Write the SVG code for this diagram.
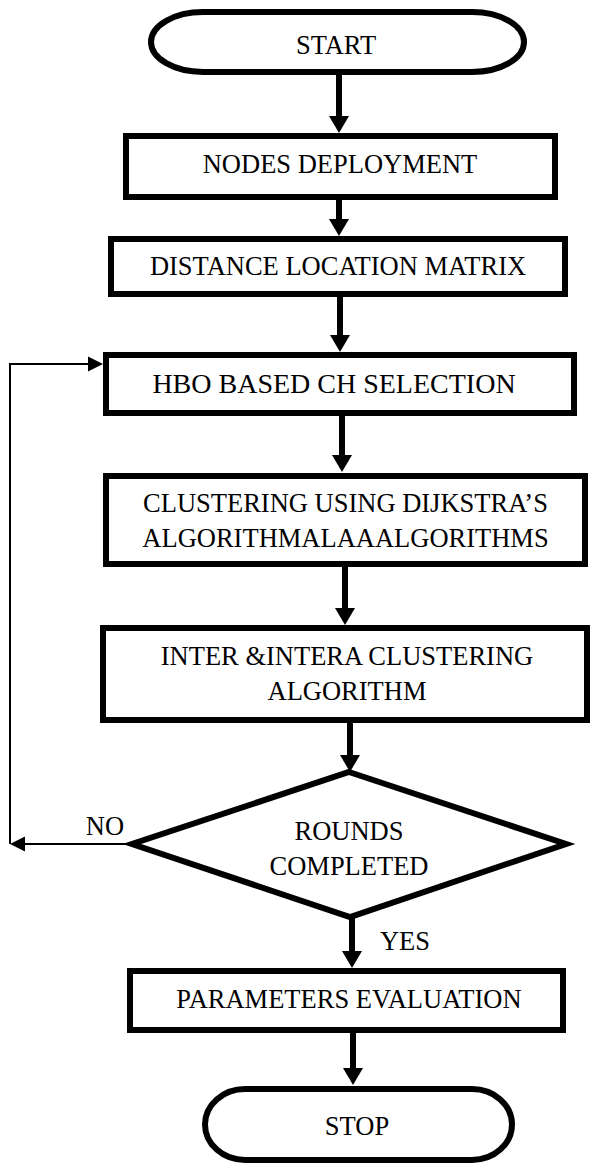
<svg xmlns="http://www.w3.org/2000/svg" width="592" height="1168" viewBox="0 0 592 1168">
  <style>
    .shape { fill: #ffffff; stroke: #000000; stroke-width: 6; }
    .lbl { font-family: "Liberation Serif", "Times New Roman", serif; font-size: 26.5px; fill: #000000; text-anchor: middle; }
    .thick { fill: none; stroke: #000000; stroke-width: 6; }
    .thin { fill: none; stroke: #000000; stroke-width: 2; }
  </style>
  <defs>
    <marker id="headThick" markerUnits="userSpaceOnUse" markerWidth="20" markerHeight="22" viewBox="0 -11 18 22" refX="0" refY="0" orient="auto">
      <path d="M0,-10 L17,0 L0,10 Z" fill="#000000"/>
    </marker>
    <marker id="headThin" markerUnits="userSpaceOnUse" markerWidth="18" markerHeight="18" viewBox="0 -9 16 18" refX="0" refY="0" orient="auto">
      <path d="M0,-7.5 L15,0 L0,7.5 Z" fill="#000000"/>
    </marker>
  </defs>

  <g id="connectors">
    <line class="thick" x1="339" y1="74" x2="339" y2="116" marker-end="url(#headThick)"/>
    <line class="thick" x1="339" y1="199" x2="339" y2="219" marker-end="url(#headThick)"/>
    <line class="thick" x1="340" y1="296" x2="340" y2="335" marker-end="url(#headThick)"/>
    <line class="thick" x1="342" y1="415" x2="342" y2="455" marker-end="url(#headThick)"/>
    <line class="thick" x1="345" y1="566" x2="345" y2="608" marker-end="url(#headThick)"/>
    <line class="thick" x1="350" y1="722" x2="350" y2="755" marker-end="url(#headThick)"/>
    <line class="thick" x1="352" y1="916" x2="352" y2="951" marker-end="url(#headThick)"/>
    <line class="thick" x1="353" y1="1032" x2="353" y2="1068" marker-end="url(#headThick)"/>
    <polyline class="thin" points="132,844 25,844" marker-end="url(#headThin)"/>
    <polyline class="thin" points="10,844 10,364 88,364" marker-end="url(#headThin)"/>
    <text class="lbl" x="105" y="835">NO</text>
    <text class="lbl" x="405" y="950">YES</text>
  </g>

  <g id="start">
    <rect class="shape" x="151" y="12" width="373" height="60" rx="52" ry="30"/>
    <text class="lbl" x="336" y="54">START</text>
  </g>

  <g id="nodes-deployment">
    <rect class="shape" x="126" y="136" width="429" height="61"/>
    <text class="lbl" x="340" y="173">NODES DEPLOYMENT</text>
  </g>

  <g id="distance-location-matrix">
    <rect class="shape" x="111" y="239" width="454" height="55"/>
    <text class="lbl" x="338" y="275">DISTANCE LOCATION MATRIX</text>
  </g>

  <g id="hbo-ch-selection">
    <rect class="shape" x="106" y="355" width="468" height="58"/>
    <text class="lbl" x="334" y="393" style="font-size:28px">HBO BASED CH SELECTION</text>
  </g>

  <g id="clustering-dijkstra">
    <rect class="shape" x="106" y="476" width="479" height="88"/>
    <text class="lbl" x="345.5" y="512">CLUSTERING USING DIJKSTRA’S</text>
    <text class="lbl" x="345.5" y="547">ALGORITHMALAAALGORITHMS</text>
  </g>

  <g id="inter-intera-clustering">
    <rect class="shape" x="103" y="628" width="484" height="92"/>
    <text class="lbl" x="347" y="665">INTER &amp;INTERA CLUSTERING</text>
    <text class="lbl" x="347" y="700">ALGORITHM</text>
  </g>

  <g id="rounds-completed">
    <polygon class="shape" points="349,772 566,844 350,917 132,844"/>
    <text class="lbl" x="349" y="840">ROUNDS</text>
    <text class="lbl" x="349" y="875">COMPLETED</text>
  </g>

  <g id="parameters-evaluation">
    <rect class="shape" x="130" y="971" width="433" height="59"/>
    <text class="lbl" x="349" y="1008">PARAMETERS EVALUATION</text>
  </g>

  <g id="stop">
    <rect class="shape" x="205" y="1089" width="307" height="71" rx="40" ry="35.5"/>
    <text class="lbl" x="357" y="1135">STOP</text>
  </g>
</svg>
